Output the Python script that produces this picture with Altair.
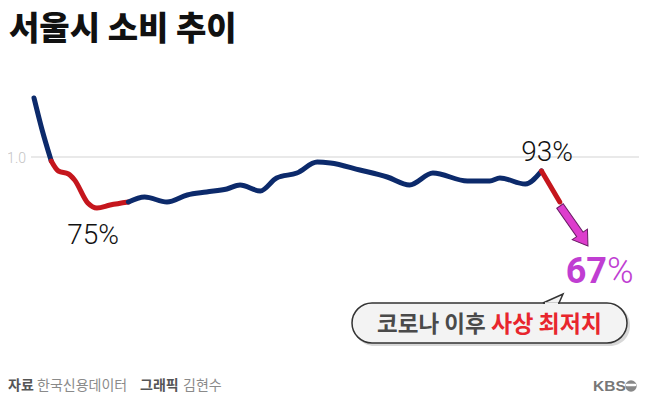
import altair as alt
import pandas as pd

W, H = 631, 390

# ---- data (x = week index, y = consumption ratio vs. baseline) ----
weeks = [0, 0.8, 1.7, 2.4, 3.4, 4.0, 5.3, 6.2, 7.5, 9.3, 10.9, 13.1, 15.1, 17.0, 19.0,
         20.3, 22.3, 23.9, 25.9, 27.9, 29.2, 32.1, 34.8, 37.0, 39.3, 42.7, 44.9, 45.9,
         48.4, 50.0, 51.8]
values = [1.295, 1.135, 0.98, 0.93, 0.915, 0.885, 0.77, 0.745, 0.76, 0.775, 0.80, 0.775,
          0.81, 0.825, 0.84, 0.86, 0.83, 0.895, 0.92, 0.975, 0.97, 0.935, 0.90, 0.86,
          0.92, 0.88, 0.88, 0.895, 0.865, 0.93, 0.775]
# (start index, end index, phase) of each coloured stretch
phases = [(0, 2, "normal"), (2, 9, "drop"), (9, 29, "normal"), (29, 30, "drop")]
grid_values = [1.0]
grid_labels = ["1.0"]
label_75 = "75%"
label_93 = "93%"
label_67 = "67"
arrow_pos = [(53.2, 0.655)]
title_text = "서울시 소비 추이"
bubble_a = "코로나 이후"
bubble_b = "사상 최저치"

NAVY = "#0c2a6b"
RED = "#c5161d"
MAGENTA = "#dd3dcd"
PURPLE = "#c03ed2"

rows = []
for k, (s, e, ph) in enumerate(phases):
    for i in range(s, e + 1):
        rows.append({"w": weeks[i], "v": values[i], "seg": k, "phase": ph})
line_df = pd.DataFrame(rows)

xs = alt.Scale(domain=[-2.562, 59.606], nice=False, zero=False)
ys = alt.Scale(domain=[-0.205, 1.745], nice=False, zero=False)

base = alt.Chart(line_df)

grid = alt.Chart(pd.DataFrame({"v": grid_values})).mark_rule(
    color="#e2e2e2", strokeWidth=1.5
).encode(y=alt.Y("v:Q", scale=ys, axis=None), x=alt.value(23), x2=alt.value(W))

grid_lab = alt.Chart(pd.DataFrame({"v": grid_values, "t": grid_labels})).mark_text(
    align="right", baseline="middle", font="Roboto", fontSize=14, fontWeight=300,
    color="#c4c4c4", dy=2
).encode(y=alt.Y("v:Q", scale=ys, axis=None), x=alt.value(18), text="t:N")

line = base.mark_line(strokeWidth=5, strokeCap="round", strokeJoin="round",
                      interpolate="monotone").encode(
    x=alt.X("w:Q", scale=xs, axis=None),
    y=alt.Y("v:Q", scale=ys, axis=None),
    color=alt.Color("phase:N", scale=alt.Scale(domain=["normal", "drop"], range=[NAVY, RED]),
                    legend=None),
    detail="seg:N",
    order="w:Q",
)

arrow_path = "M -0.16 -1 L 0.16 -1 L 0.16 0.42 L 0.38 0.42 L 0 1 L -0.38 0.42 L -0.16 0.42 Z"
arrow = alt.Chart(pd.DataFrame({"w": [p[0] for p in arrow_pos], "v": [p[1] for p in arrow_pos]})).mark_point(
    shape=arrow_path, size=2380, angle=325, filled=True, fill=MAGENTA, stroke="#6b1b66",
    strokeWidth=1, opacity=1
).encode(x=alt.X("w:Q", scale=xs), y=alt.Y("v:Q", scale=ys))


def txt(t, x, y, **kw):
    return alt.Chart(pd.DataFrame({"t": [t]})).mark_text(**kw).encode(
        x=alt.value(x), y=alt.value(y), text="t:N")


lab75 = txt(label_75, 85, 228, font="Roboto", fontSize=28, fontWeight=300, color="#111",
            align="center", baseline="middle")
lab93 = txt(label_93, 539, 145, font="Roboto", fontSize=28, fontWeight=300, color="#111",
            align="center", baseline="middle")
lab67 = txt(label_67, 599, 264, font="Roboto", fontSize=36, fontWeight="bold", color=PURPLE,
            align="right", baseline="middle")
labpct = txt("%", 599, 264, font="Roboto", fontSize=36, fontWeight=300, color=PURPLE,
             align="left", baseline="middle")

title = txt(title_text, 1, 22, font="Noto Sans CJK KR", fontSize=33, fontWeight=900,
            color="#111", align="left", baseline="middle")

# speech bubble
shadow = alt.Chart(pd.DataFrame({"a": [0]})).mark_rect(
    cornerRadius=20, fill="#c8c8c8", opacity=0.7
).encode(x=alt.value(346), x2=alt.value(622), y=alt.value(297), y2=alt.value(338))
bubble = alt.Chart(pd.DataFrame({"a": [0]})).mark_rect(
    cornerRadius=20, fill="#f3f3f3", stroke="#333", strokeWidth=1.5
).encode(x=alt.value(344), x2=alt.value(619), y=alt.value(295), y2=alt.value(335))
tail = alt.Chart(pd.DataFrame({"a": [0]})).mark_point(
    shape="M -1 0.45 L 1 -0.45 L 0.6 0.45 Z", size=400, filled=True, fill="#f3f3f3",
    stroke="#333", strokeWidth=1.5, opacity=1
).encode(x=alt.value(545), y=alt.value(290.5))
tail_cover = alt.Chart(pd.DataFrame({"a": [0]})).mark_rule(
    color="#f3f3f3", strokeWidth=2.5
).encode(x=alt.value(537), x2=alt.value(550), y=alt.value(295.5))
b1 = txt(bubble_a, 369, 317, font="Noto Sans CJK KR", fontSize=22.5, fontWeight="bold",
         color="#4a4a4a", align="left", baseline="middle")
b2 = txt(bubble_b, 483, 317, font="Noto Sans CJK KR", fontSize=23, fontWeight="bold",
         color="#e8262d", align="left", baseline="middle")

# footer
f1 = txt("자료", 0, 378, font="Noto Sans CJK KR", fontSize=14, fontWeight="bold",
         color="#555", align="left", baseline="middle")
f2 = txt("한국신용데이터", 29, 378, font="Noto Sans CJK KR", fontSize=14, fontWeight="normal",
         color="#8a8a8a", align="left", baseline="middle")
f3 = txt("그래픽", 132, 378, font="Noto Sans CJK KR", fontSize=14, fontWeight="bold",
         color="#555", align="left", baseline="middle")
f4 = txt("김현수", 175, 378, font="Noto Sans CJK KR", fontSize=14, fontWeight="normal",
         color="#8a8a8a", align="left", baseline="middle")
kbs = txt("KBS", 585, 378, font="Liberation Sans", fontSize=15.5, fontWeight="bold",
          color="#777", align="left", baseline="middle")
logo = alt.Chart(pd.DataFrame({"a": [0]})).mark_point(
    shape="circle", size=130, filled=True, color="#888", opacity=1
).encode(x=alt.value(623), y=alt.value(378))
logo_band = alt.Chart(pd.DataFrame({"a": [0]})).mark_rule(
    color="white", strokeWidth=2.5, strokeCap="round"
).encode(x=alt.value(619), x2=alt.value(627), y=alt.value(377))

chart = alt.layer(
    grid, grid_lab, line, arrow, lab75, lab93, lab67, labpct, title,
    shadow, bubble, tail, tail_cover, b1, b2, f1, f2, f3, f4, kbs, logo, logo_band
).properties(width=W, height=H, padding=0, autosize="none").configure_view(stroke=None)

chart.save("out.html", embed_options={"renderer": "svg", "actions": False})
